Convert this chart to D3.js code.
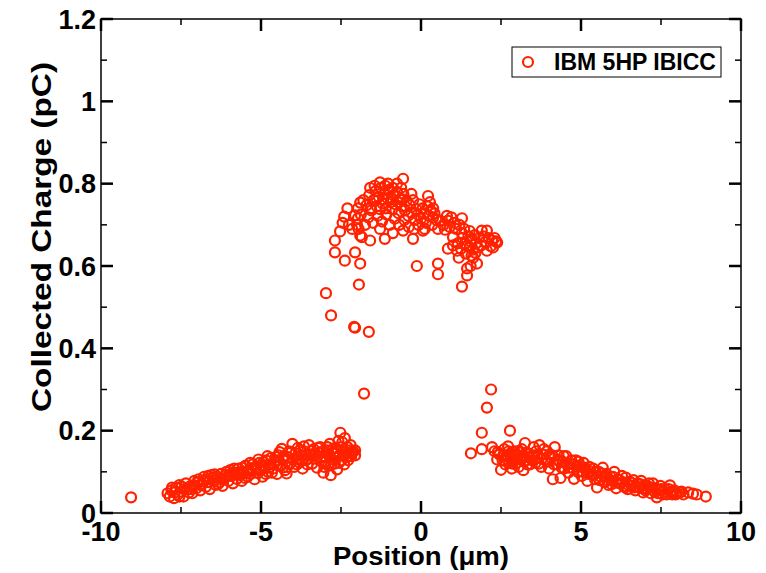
<!DOCTYPE html>
<html>
<head>
<meta charset="utf-8">
<script src="https://cdn.jsdelivr.net/npm/d3@7"></script>
<style>
  body { margin: 0; background: #fff; }
  svg { font-family: "Liberation Sans", Arial, Helvetica, sans-serif; font-weight: bold; }
  .tick-label { font-size: 27px; fill: #000; }
</style>
</head>
<body>
<div id="chart"></div>
<script>
// series: IBM 5HP IBICC, [position (um), collected charge (pC)]
const tailLeft = [
  [-9.06, 0.038],
  [-7.92, 0.048], [-7.85, 0.040], [-7.80, 0.055], [-7.72, 0.036], [-7.66, 0.062], [-7.60, 0.045],
  [-7.55, 0.068], [-7.50, 0.052], [-7.42, 0.040], [-7.35, 0.072], [-7.30, 0.058], [-7.22, 0.065],
  [-7.15, 0.048], [-7.08, 0.078], [-7.02, 0.060], [-6.95, 0.082], [-6.90, 0.055], [-6.84, 0.070],
  [-6.78, 0.088], [-6.72, 0.064], [-6.65, 0.075], [-6.60, 0.058], [-6.55, 0.092], [-6.48, 0.080],
  [-6.42, 0.068], [-6.38, 0.088], [-6.30, 0.074], [-6.25, 0.095], [-6.20, 0.066], [-6.14, 0.085],
  [-6.08, 0.100], [-6.02, 0.078], [-5.96, 0.104], [-5.92, 0.090], [-5.88, 0.072], [-5.82, 0.096],
  [-5.76, 0.083], [-5.70, 0.108], [-5.65, 0.092], [-5.60, 0.078], [-5.55, 0.100], [-5.48, 0.115],
  [-5.42, 0.088], [-5.38, 0.104], [-5.32, 0.095], [-5.26, 0.118], [-5.20, 0.082], [-5.15, 0.108],
  [-5.10, 0.097], [-5.05, 0.122], [-5.00, 0.104], [-4.95, 0.088], [-4.90, 0.115], [-4.84, 0.128],
  [-4.78, 0.100], [-4.72, 0.118], [-4.68, 0.134], [-4.62, 0.108], [-4.56, 0.124], [-4.50, 0.095],
  [-4.45, 0.140], [-4.40, 0.116], [-4.35, 0.156], [-4.30, 0.128], [-4.25, 0.104], [-4.20, 0.096],
  [-4.15, 0.136], [-4.10, 0.120], [-4.05, 0.148], [-4.02, 0.168], [-3.96, 0.112], [-3.90, 0.130],
  [-3.85, 0.158], [-3.80, 0.122], [-3.75, 0.140], [-3.70, 0.108], [-3.65, 0.150], [-3.60, 0.128],
  [-3.55, 0.118], [-3.50, 0.165], [-3.46, 0.142], [-3.40, 0.120], [-3.35, 0.155], [-3.30, 0.132],
  [-3.25, 0.110], [-3.20, 0.146], [-3.15, 0.160], [-3.10, 0.125], [-3.05, 0.098], [-3.00, 0.138],
  [-2.95, 0.152], [-2.90, 0.115], [-2.85, 0.168], [-2.82, 0.092], [-2.78, 0.130], [-2.74, 0.145],
  [-2.70, 0.120], [-2.66, 0.158], [-2.62, 0.106], [-2.58, 0.175], [-2.55, 0.140], [-2.52, 0.195],
  [-2.48, 0.128], [-2.44, 0.150], [-2.40, 0.118], [-2.38, 0.182], [-2.34, 0.135], [-2.30, 0.160],
  [-2.26, 0.145], [-2.22, 0.152], [-2.18, 0.138], [-2.12, 0.150], [-2.06, 0.152], [-2.06, 0.140],
  [-7.70, 0.050], [-7.40, 0.058], [-7.10, 0.068], [-6.80, 0.078], [-6.50, 0.086], [-6.20, 0.082],
  [-5.90, 0.098], [-5.60, 0.094], [-5.30, 0.108], [-5.00, 0.116], [-4.75, 0.110], [-4.60, 0.118],
  [-4.48, 0.128], [-4.28, 0.138], [-4.18, 0.112], [-3.92, 0.145], [-3.72, 0.128], [-3.58, 0.140],
  [-3.42, 0.150], [-3.28, 0.142], [-3.12, 0.136], [-2.98, 0.125], [-2.88, 0.140], [-2.76, 0.155],
  [-2.64, 0.135], [-2.50, 0.160], [-2.42, 0.140], [-2.28, 0.128], [-2.20, 0.165], [-4.85, 0.095],
  [-5.50, 0.085], [-6.00, 0.090], [-6.35, 0.070], [-6.65, 0.090], [-7.00, 0.074], [-7.25, 0.050],
  [-7.55, 0.040],
  [-7.78, 0.062], [-7.48, 0.064], [-7.18, 0.058], [-6.92, 0.068], [-6.70, 0.082], [-6.45, 0.094],
  [-6.28, 0.084], [-6.10, 0.092], [-5.84, 0.108], [-5.72, 0.098], [-5.58, 0.110], [-5.44, 0.098],
  [-5.34, 0.122], [-5.18, 0.112], [-5.08, 0.130], [-4.92, 0.124], [-4.80, 0.138], [-4.66, 0.098],
  [-4.54, 0.136], [-4.42, 0.148], [-4.32, 0.110], [-4.12, 0.150], [-4.00, 0.130], [-3.88, 0.118],
  [-3.78, 0.152], [-3.66, 0.162], [-3.52, 0.132], [-3.38, 0.138], [-3.22, 0.158], [-3.08, 0.150],
  [-2.92, 0.160], [-2.80, 0.118], [-2.68, 0.145], [-2.56, 0.122], [-2.46, 0.172], [-2.36, 0.148],
  [-2.24, 0.138], [-2.16, 0.148], [-2.60, 0.150], [-3.02, 0.112]
];

const peakRegion = [
  [-2.97, 0.534], [-2.81, 0.480], [-2.06, 0.450], [-2.09, 0.452], [-1.63, 0.440], [-1.94, 0.555],
  [-1.78, 0.290], [-0.13, 0.600], [0.53, 0.606], [0.53, 0.580], [1.28, 0.550], [1.44, 0.594], [1.44, 0.577],
  [-0.56, 0.812], [-1.59, 0.790], [-1.28, 0.803], [-1.03, 0.800], [-0.75, 0.800], [0.22, 0.770],
  [-1.90, 0.754], [-1.97, 0.740], [-2.06, 0.723], [-1.97, 0.716], [-2.53, 0.684], [-2.69, 0.662],
  [-2.69, 0.633], [-2.38, 0.613], [-2.06, 0.633], [-1.90, 0.606], [-1.90, 0.674], [-1.59, 0.662],
  [-1.28, 0.690], [-1.13, 0.666], [-0.88, 0.680], [-0.56, 0.686], [-0.25, 0.666], [0.06, 0.686],
  [0.38, 0.740], [0.38, 0.718], [0.53, 0.690], [0.81, 0.722], [0.84, 0.710], [1.28, 0.716],
  [1.00, 0.670], [0.84, 0.642], [1.13, 0.637], [1.28, 0.680], [1.38, 0.655], [1.59, 0.666],
  [1.53, 0.645], [1.63, 0.620], [1.75, 0.606], [1.90, 0.686], [2.06, 0.686], [2.06, 0.637],
  [2.22, 0.662], [2.38, 0.657],
  [-1.80, 0.760], [-1.70, 0.748], [-1.62, 0.772], [-1.55, 0.735], [-1.48, 0.760], [-1.42, 0.782],
  [-1.38, 0.745], [-1.32, 0.768], [-1.25, 0.790], [-1.20, 0.752], [-1.15, 0.775], [-1.10, 0.740],
  [-1.05, 0.765], [-1.00, 0.785], [-0.95, 0.755], [-0.90, 0.738], [-0.86, 0.772], [-0.80, 0.750],
  [-0.75, 0.780], [-0.70, 0.728], [-0.65, 0.762], [-0.60, 0.745], [-0.55, 0.775], [-0.50, 0.735],
  [-0.45, 0.758], [-0.40, 0.722], [-0.35, 0.748], [-0.30, 0.730], [-0.25, 0.760], [-0.20, 0.712],
  [-0.15, 0.738], [-0.10, 0.725], [-0.05, 0.750], [0.00, 0.715], [0.05, 0.740], [0.10, 0.728],
  [0.15, 0.705], [0.20, 0.745], [0.25, 0.722], [0.30, 0.735], [0.35, 0.700], [0.42, 0.728],
  [0.48, 0.712], [-1.75, 0.700], [-1.65, 0.718], [-1.50, 0.705], [-1.35, 0.722], [-1.22, 0.708],
  [-1.08, 0.725], [-0.98, 0.700], [-0.82, 0.715], [-0.68, 0.700], [-0.52, 0.712], [-0.38, 0.695],
  [-0.22, 0.690], [-0.08, 0.700], [0.12, 0.690], [-1.88, 0.725], [-1.45, 0.795], [-1.12, 0.795],
  [-0.88, 0.790], [-0.62, 0.790], [-1.58, 0.740], [-1.28, 0.738], [-0.92, 0.765], [-0.72, 0.755],
  [-1.40, 0.765], [-1.18, 0.762], [-0.58, 0.762], [-0.30, 0.775], [0.28, 0.755], [0.60, 0.710],
  [0.70, 0.700], [0.75, 0.688], [0.90, 0.695], [0.95, 0.718], [1.05, 0.705], [1.10, 0.690],
  [1.20, 0.700], [1.30, 0.668], [1.35, 0.690], [1.42, 0.648], [1.48, 0.672], [1.55, 0.660],
  [1.62, 0.640], [1.68, 0.675], [1.72, 0.655], [1.78, 0.645], [1.82, 0.668], [1.88, 0.650],
  [1.95, 0.672], [2.00, 0.658], [2.12, 0.668], [2.18, 0.648], [2.30, 0.668], [2.35, 0.660],
  [1.15, 0.655], [1.25, 0.642], [1.40, 0.630], [1.58, 0.625], [1.70, 0.632], [2.25, 0.645],
  [1.52, 0.685], [1.00, 0.650], [1.18, 0.620], [1.55, 0.600], [-2.40, 0.720], [-2.30, 0.740],
  [-2.25, 0.700], [-2.15, 0.690], [-2.00, 0.700], [-1.95, 0.690], [-1.85, 0.670], [-2.45, 0.705]
];

const tailRight = [
  [1.56, 0.145], [1.90, 0.155], [1.90, 0.195], [2.06, 0.256], [2.19, 0.300], [2.22, 0.160], [2.78, 0.200],
  [2.30, 0.150], [2.38, 0.130], [2.45, 0.142], [2.50, 0.105], [2.55, 0.128], [2.60, 0.155],
  [2.64, 0.118], [2.68, 0.138], [2.72, 0.162], [2.76, 0.125], [2.80, 0.145], [2.84, 0.108],
  [2.88, 0.135], [2.92, 0.150], [2.96, 0.120], [3.00, 0.140], [3.05, 0.112], [3.10, 0.132],
  [3.15, 0.155], [3.20, 0.104], [3.25, 0.170], [3.30, 0.128], [3.35, 0.145], [3.40, 0.118],
  [3.46, 0.138], [3.52, 0.160], [3.58, 0.122], [3.64, 0.135], [3.70, 0.165], [3.76, 0.112],
  [3.82, 0.142], [3.88, 0.128], [3.94, 0.150], [4.00, 0.108], [4.06, 0.134], [4.12, 0.082],
  [4.18, 0.160], [4.24, 0.118], [4.30, 0.140], [4.36, 0.085], [4.42, 0.125], [4.48, 0.108],
  [4.54, 0.138], [4.60, 0.098], [4.66, 0.120], [4.72, 0.110], [4.78, 0.083], [4.84, 0.128],
  [4.90, 0.100], [4.96, 0.115], [5.02, 0.090], [5.08, 0.122], [5.14, 0.105], [5.20, 0.078],
  [5.26, 0.112], [5.32, 0.095], [5.38, 0.108], [5.44, 0.082], [5.50, 0.062], [5.56, 0.100],
  [5.62, 0.088], [5.68, 0.110], [5.74, 0.075], [5.80, 0.095], [5.86, 0.068], [5.92, 0.088],
  [5.98, 0.078], [6.04, 0.100], [6.10, 0.060], [6.16, 0.082], [6.22, 0.072], [6.28, 0.090],
  [6.34, 0.065], [6.40, 0.086], [6.46, 0.058], [6.52, 0.076], [6.58, 0.066], [6.64, 0.080],
  [6.70, 0.055], [6.76, 0.072], [6.82, 0.062], [6.88, 0.078], [6.94, 0.050], [7.00, 0.068],
  [7.06, 0.058], [7.12, 0.072], [7.18, 0.048], [7.25, 0.072], [7.32, 0.060], [7.37, 0.038],
  [7.42, 0.055], [7.48, 0.066], [7.55, 0.045], [7.62, 0.058], [7.70, 0.050], [7.78, 0.067],
  [7.85, 0.045], [7.92, 0.055], [8.00, 0.048], [8.09, 0.050], [8.20, 0.045], [8.35, 0.050],
  [8.50, 0.047], [8.62, 0.045], [8.90, 0.040],
  [2.40, 0.148], [2.58, 0.140], [2.70, 0.130], [2.82, 0.138], [2.90, 0.125], [3.02, 0.150],
  [3.18, 0.140], [3.32, 0.118], [3.48, 0.128], [3.60, 0.150], [3.78, 0.132], [3.96, 0.125],
  [4.10, 0.140], [4.26, 0.128], [4.40, 0.110], [4.56, 0.118], [4.70, 0.128], [4.88, 0.112],
  [5.06, 0.100], [5.22, 0.095], [5.40, 0.092], [5.58, 0.080], [5.76, 0.088], [5.96, 0.070],
  [6.12, 0.074], [6.30, 0.075], [6.48, 0.068], [6.66, 0.062], [6.84, 0.070], [7.02, 0.055],
  [7.20, 0.062], [7.40, 0.048], [7.58, 0.052], [7.74, 0.058], [7.96, 0.045],
  [2.62, 0.128], [2.74, 0.150], [2.86, 0.120], [2.98, 0.132], [3.08, 0.148], [3.22, 0.125],
  [3.38, 0.135], [3.54, 0.140], [3.68, 0.120], [3.84, 0.155], [4.02, 0.142], [4.16, 0.118],
  [4.32, 0.128], [4.46, 0.138], [4.62, 0.110], [4.76, 0.118], [4.92, 0.125], [5.10, 0.110],
  [5.28, 0.102], [5.46, 0.100], [5.64, 0.096], [5.82, 0.080], [6.00, 0.088], [6.20, 0.080],
  [6.38, 0.062], [6.56, 0.074], [6.74, 0.064], [6.92, 0.060], [7.10, 0.064], [7.30, 0.052],
  [7.50, 0.058], [7.68, 0.045], [7.88, 0.050], [8.14, 0.052]
];

const xMajorTicks = [-10, -5, 0, 5, 10];
const xMinorTicks = [-7.5, -2.5, 2.5, 7.5];
const yMajorTicks = [0, 0.2, 0.4, 0.6, 0.8, 1, 1.2];
const yMinorTicks = [0.1, 0.3, 0.5, 0.7, 0.9, 1.1];
const seriesName = `IBM 5HP IBICC`;

const width = 766;
const height = 573;
const margin = {top: 19, right: 25, bottom: 60, left: 101};
const innerWidth = width - margin.left - margin.right;
const innerHeight = height - margin.top - margin.bottom;
const red = `#ff2200`;
const majorLen = 12;
const minorLen = 6;

const svg = d3.select(`#chart`)
  .append(`svg`)
    .attr(`width`, width)
    .attr(`height`, height);

const g = svg.append(`g`)
  .attr(`transform`, `translate(${margin.left},${margin.top})`);

const x = d3.scaleLinear().domain([-10, 10]).range([0, innerWidth]);
const y = d3.scaleLinear().domain([0, 1.2]).range([innerHeight, 0]);

// frame
g.append(`rect`)
  .attr(`width`, innerWidth)
  .attr(`height`, innerHeight)
  .attr(`fill`, `none`)
  .attr(`stroke`, `#000`)
  .attr(`stroke-width`, 1.5);

// inward ticks on all four sides
const ticks = g.append(`g`).attr(`class`, `ticks`).attr(`stroke`, `#000`);
const xTicks = xMajorTicks.map(v => ({v, len: majorLen, w: 2.5}))
  .concat(xMinorTicks.map(v => ({v, len: minorLen, w: 1.5})));
const yTicks = yMajorTicks.map(v => ({v, len: majorLen, w: 2.5}))
  .concat(yMinorTicks.map(v => ({v, len: minorLen, w: 1.5})));

ticks.selectAll(`.xb`).data(xTicks).enter().append(`line`)
  .attr(`x1`, d => x(d.v)).attr(`x2`, d => x(d.v))
  .attr(`y1`, innerHeight).attr(`y2`, d => innerHeight - d.len)
  .attr(`stroke-width`, d => d.w);
ticks.selectAll(`.xt`).data(xTicks).enter().append(`line`)
  .attr(`x1`, d => x(d.v)).attr(`x2`, d => x(d.v))
  .attr(`y1`, 0).attr(`y2`, d => d.len)
  .attr(`stroke-width`, d => d.w);
ticks.selectAll(`.yl`).data(yTicks).enter().append(`line`)
  .attr(`y1`, d => y(d.v)).attr(`y2`, d => y(d.v))
  .attr(`x1`, 0).attr(`x2`, d => d.len)
  .attr(`stroke-width`, d => d.w);
ticks.selectAll(`.yr`).data(yTicks).enter().append(`line`)
  .attr(`y1`, d => y(d.v)).attr(`y2`, d => y(d.v))
  .attr(`x1`, innerWidth).attr(`x2`, d => innerWidth - d.len)
  .attr(`stroke-width`, d => d.w);

// tick labels (plain hyphen for negatives, like the original)
g.append(`g`).selectAll(`text`).data(xMajorTicks).enter().append(`text`)
  .attr(`class`, `tick-label`)
  .attr(`x`, d => x(d))
  .attr(`y`, innerHeight + 28)
  .attr(`text-anchor`, `middle`)
  .text(d => String(d));
g.append(`g`).selectAll(`text`).data(yMajorTicks).enter().append(`text`)
  .attr(`class`, `tick-label`)
  .attr(`x`, -5)
  .attr(`y`, d => y(d))
  .attr(`dy`, `0.36em`)
  .attr(`text-anchor`, `end`)
  .text(d => String(d));

// markers
const allPoints = tailLeft.concat(peakRegion, tailRight);
g.append(`g`)
  .selectAll(`circle`)
  .data(allPoints)
  .enter().append(`circle`)
    .attr(`cx`, d => x(d[0]))
    .attr(`cy`, d => y(d[1]))
    .attr(`r`, 5)
    .attr(`fill`, `none`)
    .attr(`stroke`, red)
    .attr(`stroke-width`, 2.2);

// legend
const legend = svg.append(`g`).attr(`transform`, `translate(512,47)`);
legend.append(`rect`)
  .attr(`width`, 209)
  .attr(`height`, 30)
  .attr(`fill`, `#fff`)
  .attr(`stroke`, `#000`)
  .attr(`stroke-width`, 1);
legend.append(`circle`)
  .attr(`cx`, 16)
  .attr(`cy`, 15)
  .attr(`r`, 5)
  .attr(`fill`, `none`)
  .attr(`stroke`, red)
  .attr(`stroke-width`, 2.2);
legend.append(`text`)
  .attr(`x`, 42)
  .attr(`y`, 23)
  .attr(`font-size`, 23)
  .attr(`textLength`, 162)
  .attr(`lengthAdjust`, `spacingAndGlyphs`)
  .text(seriesName);

// axis titles
svg.append(`text`)
  .attr(`text-anchor`, `middle`)
  .attr(`transform`, `translate(421,${height - 8})`)
  .attr(`font-size`, 25)
  .attr(`textLength`, 176)
  .attr(`lengthAdjust`, `spacingAndGlyphs`)
  .text(`Position (\u03bcm)`);

svg.append(`text`)
  .attr(`text-anchor`, `middle`)
  .attr(`transform`, `translate(51,237) rotate(-90)`)
  .attr(`font-size`, 27)
  .attr(`textLength`, 350)
  .attr(`lengthAdjust`, `spacingAndGlyphs`)
  .text(`Collected Charge (pC)`);
</script>
</body>
</html>
